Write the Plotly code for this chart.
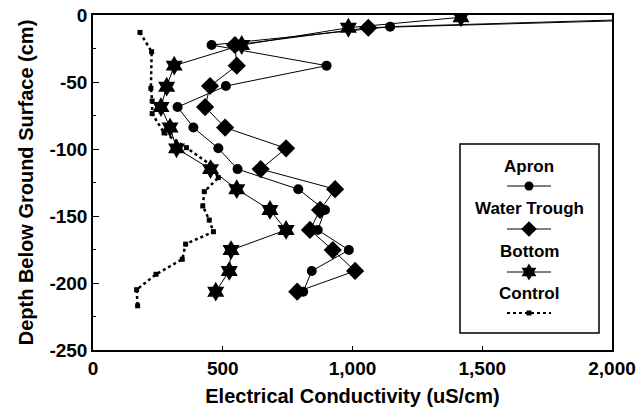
import plotly.graph_objects as go

# ---- data ----
apron_ec = [2400, 1145, 457, 900, 512, 326, 387, 483, 557, 791, 894, 866, 986, 843, 810]
apron_depth = [-1.5, -8.7, -22.4, -37.8, -53, -68.7, -84, -99.5, -115, -130, -145.5, -160.4, -175.4, -191, -206.5]

trough_ec = [2550, 1061, 547, 554, 451, 432, 509, 744, 646, 933, 875, 836, 924, 1010, 787]
trough_depth = [-1.5, -9.5, -22.4, -37.8, -53, -68.7, -84, -99.5, -115, -130, -145.5, -160.4, -175.4, -191, -206.5]

bottom_ec = [1418, 984, 573, 313, 284, 262, 297, 322, 453, 554, 682, 744, 532, 525, 473]
bottom_depth = [-1.7, -9.5, -22.4, -37.8, -53.5, -68.7, -84, -99.5, -115, -130, -145.5, -160.4, -175.4, -191, -206.5]

control_ec = [181, 226, 223, 228, 228, 274, 360, 455, 483, 429, 423, 448, 464, 357, 344, 243, 168, 172]
control_depth = [-13, -27.4, -54.7, -64.2, -73.6, -88, -99, -112, -121.4, -131.8, -142.5, -153, -161.7, -171, -182.3, -193.5, -205, -217]

x_ticks = [0, 500, 1000, 1500, 2000]
x_ticklabels = ["0", "500", "1,000", "1,500", "2,000"]
y_ticks = [0, -50, -100, -150, -200, -250]
y_ticklabels = ["0", "-50", "-100", "-150", "-200", "-250"]

series_names = ["Apron", "Water Trough", "Bottom", "Control"]

FONT = "Liberation Sans, Arial, sans-serif"

fig = go.Figure()

line_kw = dict(color="black", width=1)
fig.add_trace(go.Scatter(x=apron_ec, y=apron_depth, mode="lines+markers", name="Apron",
                         line=line_kw, marker=dict(symbol="circle", size=10, color="black"),
                         showlegend=False))
fig.add_trace(go.Scatter(x=trough_ec, y=trough_depth, mode="lines+markers", name="Water Trough",
                         line=line_kw, marker=dict(symbol="diamond", size=14, color="black"),
                         showlegend=False))
fig.add_trace(go.Scatter(x=bottom_ec, y=bottom_depth, mode="lines+markers", name="Bottom",
                         line=line_kw, marker=dict(symbol="hexagram", size=15, color="black"),
                         showlegend=False))
fig.add_trace(go.Scatter(x=control_ec, y=control_depth, mode="lines+markers", name="Control",
                         line=dict(color="black", width=2.5, dash="dot"),
                         marker=dict(symbol="square", size=5, color="black"),
                         showlegend=False))

# ---- custom legend (text above the sample, as in the reference) ----
sample_y = [186, 229, 272, 313]
label_y = [166, 208, 251, 293]
symbols = ["circle", "diamond", "hexagram", "square"]
msizes = [9, 12, 13, 5]
for i, nm in enumerate(series_names):
    dash = "dot" if nm == "Control" else "solid"
    w = 2 if nm == "Control" else 1
    fig.add_trace(go.Scatter(x=[507, 551], y=[sample_y[i], sample_y[i]], mode="lines",
                             line=dict(color="black", width=w, dash=dash),
                             xaxis="x2", yaxis="y2", showlegend=False, hoverinfo="skip"))
    fig.add_trace(go.Scatter(x=[529], y=[sample_y[i]], mode="markers",
                             marker=dict(symbol=symbols[i], size=msizes[i], color="black"),
                             xaxis="x2", yaxis="y2", showlegend=False, hoverinfo="skip"))
    fig.add_annotation(x=529, y=label_y[i], xref="x2", yref="y2", text="<b>%s</b>" % nm,
                       showarrow=False, font=dict(family=FONT, size=17, color="black"))

fig.add_shape(type="rect", xref="x2", yref="y2", x0=460, x1=599, y0=144, y1=333,
              line=dict(color="black", width=1.5), fillcolor="rgba(0,0,0,0)")

fig.update_layout(
    width=644, height=411,
    margin=dict(l=93, r=32, t=15, b=61, autoexpand=False),
    showlegend=False,
    paper_bgcolor="white", plot_bgcolor="white",
    font=dict(family=FONT, color="black"),
    xaxis=dict(range=[0, 2000], tickvals=x_ticks,
               ticktext=["<b>%s</b>" % t for t in x_ticklabels],
               ticks="inside", ticklen=4, tickcolor="black", automargin=False,
               showline=True, linecolor="black", linewidth=1.5, mirror=True,
               showgrid=False, zeroline=False,
               tickfont=dict(family=FONT, size=19, color="black"),
               title=dict(text="<b>Electrical Conductivity (uS/cm)</b>",
                          font=dict(family=FONT, size=20, color="black"), standoff=11)),
    yaxis=dict(range=[-250, 0], tickvals=y_ticks,
               ticktext=["<b>%s</b>" % t for t in y_ticklabels],
               ticks="inside", ticklen=6, tickcolor="black", automargin=False,
               minor=dict(tickvals=[-25, -75, -125, -175, -225], ticks="inside", ticklen=3, tickcolor="black"),
               showline=True, linecolor="black", linewidth=1.5, mirror=True,
               showgrid=False, zeroline=False,
               tickfont=dict(family=FONT, size=19, color="black"),
               title=dict(text="<b>Depth Below Ground Surface (cm)</b>",
                          font=dict(family=FONT, size=20, color="black"), standoff=10)),
    xaxis2=dict(overlaying="x", range=[93, 612], visible=False, fixedrange=True),
    yaxis2=dict(overlaying="y", range=[350, 15], visible=False, fixedrange=True),
)

fig.write_html("out.html", config={"displayModeBar": False},
               post_script="document.body.style.margin='0';document.body.style.padding='0';")
